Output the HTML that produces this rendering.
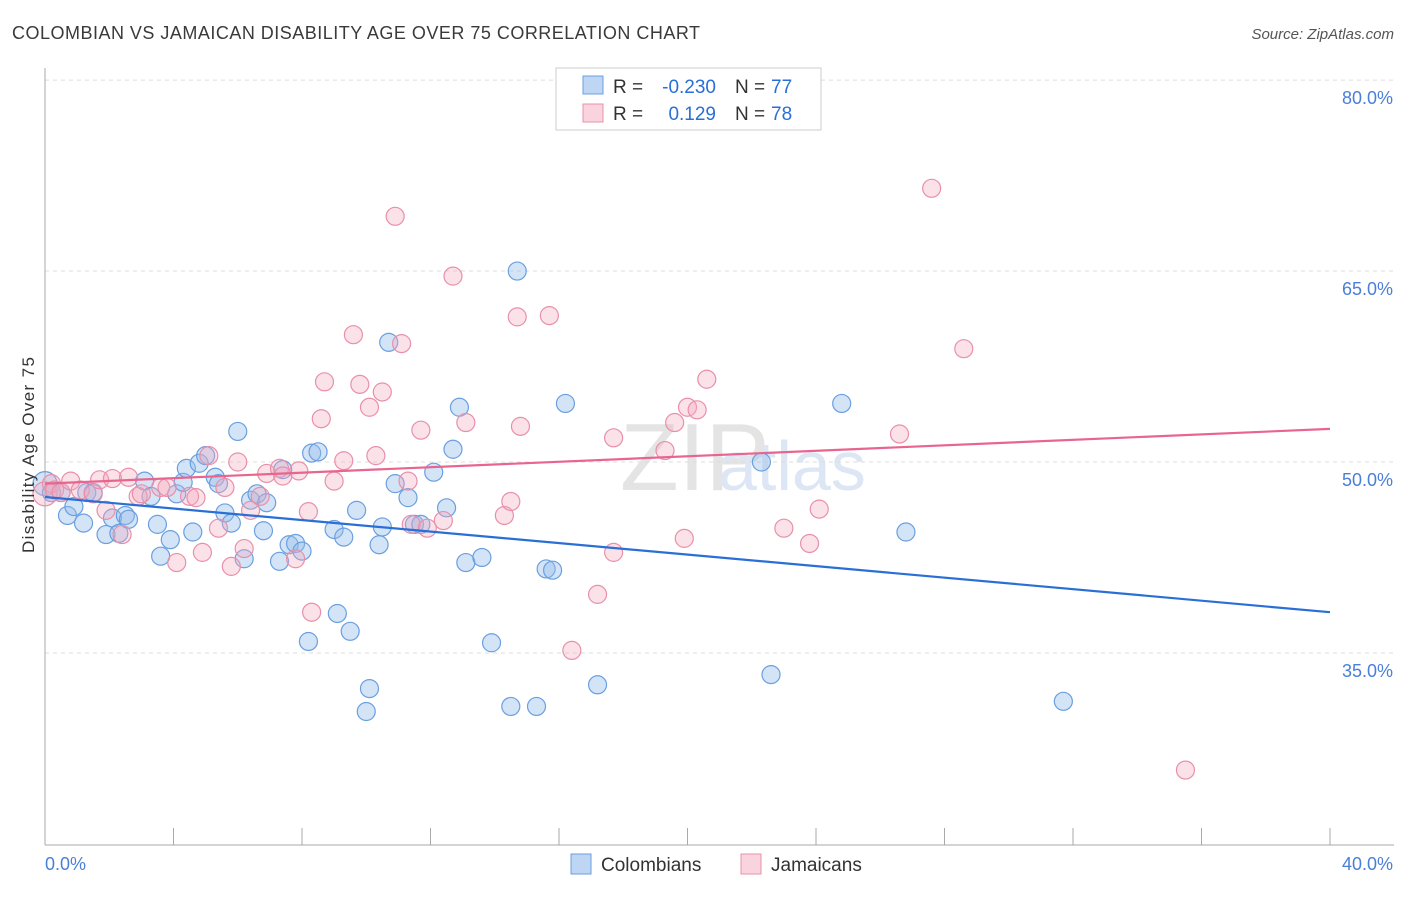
<!DOCTYPE html>
<html><head><meta charset="utf-8"><style>
body{margin:0;background:#fff;font-family:"Liberation Sans",sans-serif;}
svg text{font-family:"Liberation Sans",sans-serif;}
</style></head><body>
<svg id="chart" width="1406" height="892" xmlns="http://www.w3.org/2000/svg">
<text x="12" y="39" font-size="18" fill="#3a3a3a" textLength="688" lengthAdjust="spacing">COLOMBIAN VS JAMAICAN DISABILITY AGE OVER 75 CORRELATION CHART</text>
<text x="1394" y="39" font-size="15" fill="#555" font-style="italic" text-anchor="end">Source: ZipAtlas.com</text>
<text x="620" y="490" font-size="96" fill="#e4e4e4" font-family="Liberation Serif">ZIP</text>
<text x="718" y="490" font-size="70" fill="#dce6f4">atlas</text>
<g id="grid"></g>
<g id="axes"></g>
<g id="pts"></g>
<g id="lines"></g>
<text transform="translate(34,455) rotate(-90)" font-size="17" fill="#333" text-anchor="middle" textLength="196">Disability Age Over 75</text>
<g>
<rect x="556" y="68" width="265" height="62" fill="#fff" stroke="#ccc"/>
<rect x="583" y="76" width="20" height="18" fill="rgba(147,187,235,0.6)" stroke="#6a9fe0"/>
<rect x="583" y="104" width="20" height="18" fill="rgba(244,170,190,0.5)" stroke="#e890aa"/>
<text x="613" y="93" font-size="19" fill="#333">R =</text>
<text x="716" y="93" font-size="19" fill="#2a6fd6" text-anchor="end">-0.230</text>
<text x="735" y="93" font-size="19" fill="#333">N =</text>
<text x="771" y="93" font-size="19" fill="#2a6fd6">77</text>
<text x="613" y="120" font-size="19" fill="#333">R =</text>
<text x="716" y="120" font-size="19" fill="#2a6fd6" text-anchor="end">0.129</text>
<text x="735" y="120" font-size="19" fill="#333">N =</text>
<text x="771" y="120" font-size="19" fill="#2a6fd6">78</text>
</g>
<g>
<rect x="571" y="854" width="20" height="20" fill="rgba(147,187,235,0.6)" stroke="#6a9fe0"/>
<text x="601" y="871" font-size="19" fill="#333">Colombians</text>
<rect x="741" y="854" width="20" height="20" fill="rgba(244,170,190,0.5)" stroke="#e890aa"/>
<text x="771" y="871" font-size="19" fill="#333">Jamaicans</text>
</g>
</svg>
<script>
const yTicks=[35,50,65,80];
const yTickLabels=["35.0%","50.0%","65.0%","80.0%"];
const xEndLabels=["0.0%","40.0%"];
const blueX=[0,0.2,0.5,0.7,0.9,1.2,1.3,1.5,1.9,2.1,2.3,2.5,2.6,3.1,3.3,3.5,3.6,3.9,4.1,4.3,4.4,4.6,4.8,5.0,5.3,5.4,5.6,5.8,6.0,6.2,6.4,6.6,6.8,6.9,7.3,7.4,7.6,7.8,8.0,8.2,8.3,8.5,9.0,9.1,9.3,9.5,9.7,10.0,10.1,10.4,10.5,10.7,10.9,11.3,11.5,11.7,12.1,12.5,12.7,12.9,13.1,13.6,13.9,14.5,14.7,15.3,15.6,15.8,16.2,17.2,22.3,22.6,24.8,26.8,31.7];
const blueY=[48.3,47.6,47.6,45.8,46.5,45.2,47.6,47.6,44.3,45.6,44.4,45.8,45.5,48.5,47.3,45.1,42.6,43.9,47.5,48.4,49.5,44.5,49.9,50.5,48.8,48.3,46.0,45.2,52.4,42.4,47.0,47.5,44.6,46.8,42.2,49.4,43.5,43.6,43.0,35.9,50.7,50.8,44.7,38.1,44.1,36.7,46.2,30.4,32.2,43.5,44.9,59.4,48.3,47.2,45.1,45.1,49.2,46.4,51.0,54.3,42.1,42.5,35.8,30.8,65.0,30.8,41.6,41.5,54.6,32.5,50.0,33.3,54.6,44.5,31.2];
const pinkX=[0,0.2,0.3,0.5,0.8,1.1,1.5,1.7,1.9,2.1,2.4,2.6,2.9,3.0,3.6,3.8,4.1,4.5,4.7,4.9,5.1,5.4,5.6,5.8,6.0,6.2,6.4,6.7,6.9,7.3,7.4,7.8,7.9,8.2,8.3,8.6,8.7,9.0,9.3,9.6,9.8,10.1,10.3,10.5,10.9,11.1,11.3,11.4,11.7,11.9,12.4,12.7,13.1,14.3,14.5,14.7,14.8,15.7,16.4,17.2,17.7,17.7,19.3,19.6,19.9,20.0,20.3,20.6,23.0,23.8,24.1,26.6,27.6,28.6,35.5];
const pinkY=[47.5,48.3,47.8,47.6,48.5,47.8,47.5,48.6,46.2,48.7,44.3,48.8,47.3,47.5,48.0,48.0,42.1,47.3,47.2,42.9,50.5,44.8,48.0,41.8,50.0,43.2,46.2,47.3,49.1,49.5,48.9,42.4,49.3,46.1,38.2,53.4,56.3,48.5,50.1,60.0,56.1,54.3,50.5,55.5,69.3,59.3,48.5,45.1,52.5,44.8,45.4,64.6,53.1,45.8,46.9,61.4,52.8,61.5,35.2,39.6,42.9,51.9,50.9,53.1,44.0,54.3,54.1,56.5,44.8,43.6,46.3,52.2,71.5,58.9,25.8];
const blueTrend=[47.25,38.2];
const pinkTrend=[48.3,52.6];
const NS="http://www.w3.org/2000/svg";
const X=v=>45+v*32.125;
const Y=v=>462-(v-50)*12.73;
function mk(tag,attrs,parent){const e=document.createElementNS(NS,tag);for(const k in attrs)e.setAttribute(k,attrs[k]);document.getElementById(parent).appendChild(e);return e;}
yTicks.forEach((t,i)=>{
  const g=mk('line',{x1:45,x2:1394,y1:Y(t),y2:Y(t),stroke:'#ddd','stroke-dasharray':'4,4'},'grid');
  
  
  const l=mk('text',{x:1393,y:Y(t)+24,'font-size':18,fill:'#4a7fd8','text-anchor':'end'},'grid');
  l.textContent=yTickLabels[i];
  
  
});
const ax=mk('line',{x1:45,x2:45,y1:68,y2:845,stroke:'#aaa'},'axes');


const bx=mk('line',{x1:45,x2:1394,y1:845,y2:845,stroke:'#aaa'},'axes');


for(let i=0;i<=10;i++){
  const t=mk('line',{x1:X(i*4),x2:X(i*4),y1:828,y2:845,stroke:'#aaa'},'axes');
  
  
}
[[0,'start',45],[40,'end',1393]].forEach((d,i)=>{
  const l=mk('text',{x:d[2],y:870,'font-size':18,fill:'#4a7fd8','text-anchor':d[1]},'axes');
  l.textContent=xEndLabels[i];
  
  
});
function dots(xs,ys,fill,stroke,name){
  xs.forEach((x,i)=>{
    const c=mk('circle',{cx:X(x),cy:Y(ys[i]),r:i===0?12:9,fill:fill,stroke:stroke,'stroke-width':1.2},'pts');
    
    
  });
}
dots(blueX,blueY,'rgba(147,187,235,0.4)','#6a9fe0','colombian-point');
dots(pinkX,pinkY,'rgba(244,170,190,0.35)','#e890aa','jamaican-point');
const bl=mk('line',{x1:X(0),y1:Y(blueTrend[0]),x2:X(40),y2:Y(blueTrend[1]),stroke:'#2a6fd6','stroke-width':2.2},'lines');


const pl=mk('line',{x1:X(0),y1:Y(pinkTrend[0]),x2:X(40),y2:Y(pinkTrend[1]),stroke:'#e8658f','stroke-width':2.2},'lines');


</script>
</body></html>
